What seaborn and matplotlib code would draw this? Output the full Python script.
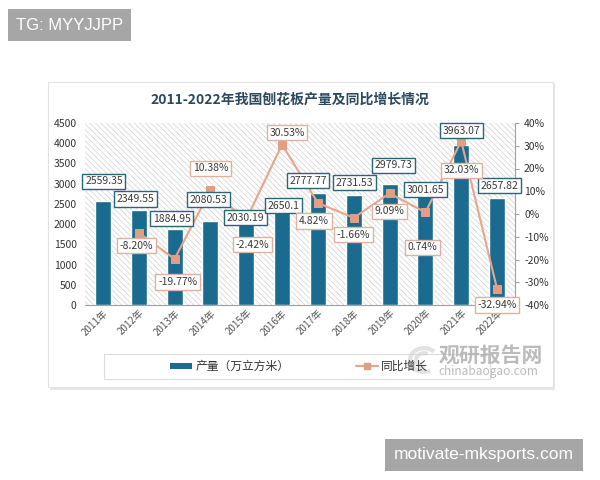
import numpy as np
import pandas as pd
import seaborn as sns
import matplotlib.pyplot as plt
from matplotlib.patches import Rectangle, FancyBboxPatch, Arc, Patch
from matplotlib.lines import Line2D
from matplotlib.transforms import IdentityTransform

years = ["2011年", "2012年", "2013年", "2014年", "2015年", "2016年",
         "2017年", "2018年", "2019年", "2020年", "2021年", "2022年"]
output = [2559.35, 2349.55, 1884.95, 2080.53, 2030.19, 2650.1,
          2777.77, 2731.53, 2979.73, 3001.65, 3963.07, 2657.82]
output_text = ["2559.35", "2349.55", "1884.95", "2080.53", "2030.19", "2650.1",
               "2777.77", "2731.53", "2979.73", "3001.65", "3963.07", "2657.82"]
growth = [-8.20, -19.77, 10.38, -2.42, 30.53, 4.82, -1.66, 9.09, 0.74, 32.03, -32.94]

# label offsets in pixels (dx, dy)
bar_off = [(1, 20), (-3, 11), (-3, 10), (-2, 21), (-1, 5), (1, -8),
           (-10, 12), (1, 12), (4, 19), (0, -6), (0, 14), (2, 12)]
line_off = [(-2, -13), (3, -23), (0, 22), (6, -25), (5, 12), (-4, -18),
            (0, -17), (0, -18), (-3, -35), (0, -29), (0, -16)]

bar_color = "#1b6a8f"
line_color = "#e8a58c"

sns.set_style("white")
plt.rcParams['font.family'] = ['Noto Sans CJK SC', 'DejaVu Sans']
plt.rcParams['hatch.linewidth'] = 0.5

fig = plt.figure(figsize=(6, 4.8), dpi=100)
W, H = 600, 480

def fx(px):
    return px / W

def fy(py):
    return 1 - py / H

# card panel with shadow
fig.patches.append(FancyBboxPatch((fx(50), fy(390)), fx(505), 307 / H,
                                  boxstyle="square,pad=0", fc="#e6e6e6", ec="none",
                                  transform=fig.transFigure, zorder=-5))
fig.patches.append(FancyBboxPatch((fx(48), fy(387)), fx(505), 305 / H,
                                  boxstyle="square,pad=0", fc="white", ec="#e3e3e3",
                                  lw=0.8, transform=fig.transFigure, zorder=-4))

ax = fig.add_axes([fx(85), fy(305), 430 / W, 182 / H])
ax.set_facecolor("none")
ax.add_patch(Rectangle((0, 0), 1, 1, transform=ax.transAxes, fc="white",
                       ec="#d0d0d0", hatch="\\\\\\\\\\\\", lw=0, zorder=-1))

df = pd.DataFrame({"year": years, "output": output})
sns.barplot(data=df, x="year", y="output", color=bar_color, width=0.45,
            saturation=1, ax=ax, zorder=2)
ax.set_ylim(0, 4500)
ax.set_xlim(-0.5, 11.5)
ax.set_yticks(np.arange(0, 4501, 500))
ax.set_xlabel("")
ax.set_ylabel("")
ax.tick_params(axis="y", labelsize=7.5, colors="#333333", length=0, pad=6)
ax.tick_params(axis="x", labelsize=7, colors="#555555", length=0, pad=2)
ax.set_xticks(range(len(years)))
ax.set_xticklabels(years, rotation=45, ha="right", rotation_mode="anchor")
for s in ["top", "left", "right"]:
    ax.spines[s].set_visible(False)
ax.spines["bottom"].set_color("#a0a0a0")
ax.spines["bottom"].set_linewidth(0.8)

ax2 = ax.twinx()
gdf = pd.DataFrame({"pos": np.arange(1, 12), "growth": growth})
sns.lineplot(data=gdf, x="pos", y="growth", color=line_color, lw=1.5,
             marker="s", markersize=6, markerfacecolor="#e29e82",
             markeredgecolor="#e29e82", ax=ax2, zorder=3)
ax2.set_ylim(-40, 40)
ax2.set_xlim(-0.5, 11.5)
ax2.set_yticks(np.arange(-40, 41, 10))
ax2.set_yticklabels([f"{v}%" for v in range(-40, 41, 10)])
ax2.set_ylabel("")
ax2.set_xlabel("")
ax2.tick_params(axis="y", labelsize=7.5, colors="#333333", length=3,
                direction="out", color="#a0a0a0")
for s in ["top", "left", "bottom"]:
    ax2.spines[s].set_visible(False)
ax2.spines["right"].set_color("#a0a0a0")
ax2.spines["right"].set_linewidth(0.8)

for i, (v, t) in enumerate(zip(output, output_text)):
    ax2.annotate(t, xy=(i, v), xycoords=ax.transData, xytext=bar_off[i],
                 textcoords="offset pixels", ha="center", va="center",
                 fontsize=7.5, color="#3a3a3a", zorder=5,
                 bbox=dict(boxstyle="square,pad=0.25", fc="white",
                           ec="#2c6578", lw=1))
for i, g in enumerate(growth):
    ax2.annotate(f"{g:.2f}%", xy=(i + 1, g), xytext=line_off[i],
                 textcoords="offset pixels", ha="center", va="center",
                 fontsize=7.5, color="#3a3a3a", zorder=5,
                 bbox=dict(boxstyle="square,pad=0.25", fc="white",
                           ec="#dcb3a3", lw=1))

fig.text(fx(290), fy(100), "2011-2022年我国刨花板产量及同比增长情况",
         ha="center", va="center", fontsize=10, fontweight="bold", color="#2b4a5e")

# legend with its own frame
fig.patches.append(Rectangle((fx(104), fy(379)), 386 / W, 25 / H, fc="white",
                             ec="#dcdcdc", lw=0.8, transform=fig.transFigure,
                             zorder=1))

# logo (behind the legend text)
for r, a1, a2 in [(14, 40, 300), (8, 60, 280)]:
    fig.patches.append(Arc((424, H - 360), 2 * r, 2 * r * 0.85, theta1=a1,
                           theta2=a2, lw=3, color="#d6d6d6", alpha=0.7,
                           transform=IdentityTransform(), zorder=2))
fig.text(fx(491), fy(355), "观研报告网", ha="center", va="center", fontsize=15,
         fontweight="bold", color="#b0b0b0", alpha=0.85, zorder=3)
fig.text(fx(488), fy(371), "chinabaogao.com", ha="center", va="center",
         fontsize=8.5, color="#b0b0b0", alpha=0.85, zorder=3)

handles = [Patch(fc=bar_color, ec="none"),
           Line2D([0], [0], color=line_color, lw=1.5, marker="s", markersize=5,
                  markerfacecolor="#e29e82", markeredgecolor="#e29e82")]
leg = fig.legend(handles, ["产量（万立方米）", "同比增长"], loc="center",
                 bbox_to_anchor=(fx(299), fy(366.5)), ncol=2, fontsize=8.5,
                 frameon=False, columnspacing=5.6, handlelength=1.9,
                 handleheight=0.45, handletextpad=0.25)
leg.set_zorder(5)
for t in leg.get_texts():
    t.set_color("#333333")

# watermarks
fig.text(fx(16), fy(25), "TG: MYYJJPP", ha="left", va="center", fontsize=12,
         color="white", family=["Liberation Sans"],
         bbox=dict(boxstyle="square,pad=0.5", fc="#a6a6a6", ec="none"))
fig.text(fx(394), fy(455), "motivate-mksports.com", ha="left", va="center",
         fontsize=12.5, color="white", family=["Liberation Sans"],
         bbox=dict(boxstyle="square,pad=0.5", fc="#a6a6a6", ec="none"))

fig.savefig("out.png", dpi=100)
